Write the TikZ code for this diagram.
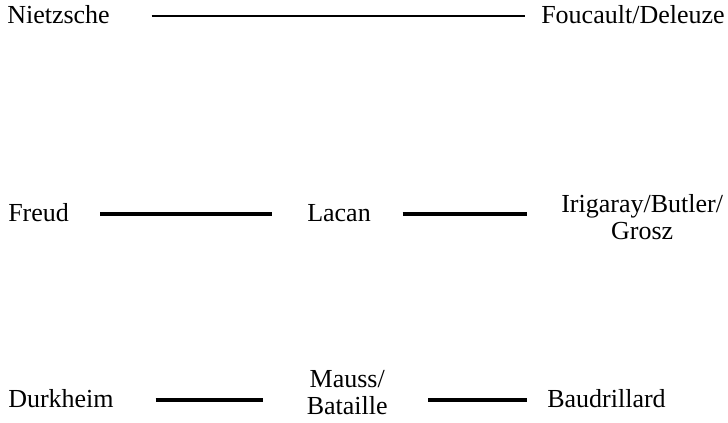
\documentclass[tikz,border=0pt]{standalone}
\usepackage{fontspec}
\setmainfont{Liberation Serif}
\begin{document}
\begin{tikzpicture}[x=0.75pt,y=-0.75pt,
  lbl/.style={inner sep=0pt,anchor=base west,font=\fontsize{19.5pt}{20.5pt}\selectfont},
  conn/.style={line width=2.5pt,line cap=butt}]
\useasboundingbox (0,0) rectangle (728,423);
% top row
\node[lbl] (nie) at (7,24) {Nietzsche};
\node[lbl] (fou) at (541,24) {Foucault/Deleuze};
\draw[conn,line width=2.2pt] ([shift={(41.5,-8)}]nie.base east) -- ([shift={(-16,-8)}]fou.base west);
% middle row
\node[lbl] (fre) at (8,222) {Freud};
\node[lbl] (lac) at (307,222) {Lacan};
\node[lbl,align=center] (iri) at (561,240) {Irigaray/Butler/\\Grosz};
\draw[conn] ([shift={(31,-8)}]fre.base east) -- ([shift={(-35,-8)}]lac.base west);
\draw[conn] ([shift={(31.5,-8)}]lac.base east) -- ([shift={(-34,-26)}]iri.base west);
% bottom row
\node[lbl] (dur) at (8,408) {Durkheim};
\node[lbl,align=center] (mau) at (306.5,415) {Mauss/\\Bataille};
\node[lbl] (bau) at (547,408) {Baudrillard};
\draw[conn] ([shift={(41.6,-8)}]dur.base east) -- ([shift={(-43.5,-15)}]mau.base west);
\draw[conn] ([shift={(40.6,-15)}]mau.base east) -- ([shift={(-20,-8)}]bau.base west);
\end{tikzpicture}
\end{document}
